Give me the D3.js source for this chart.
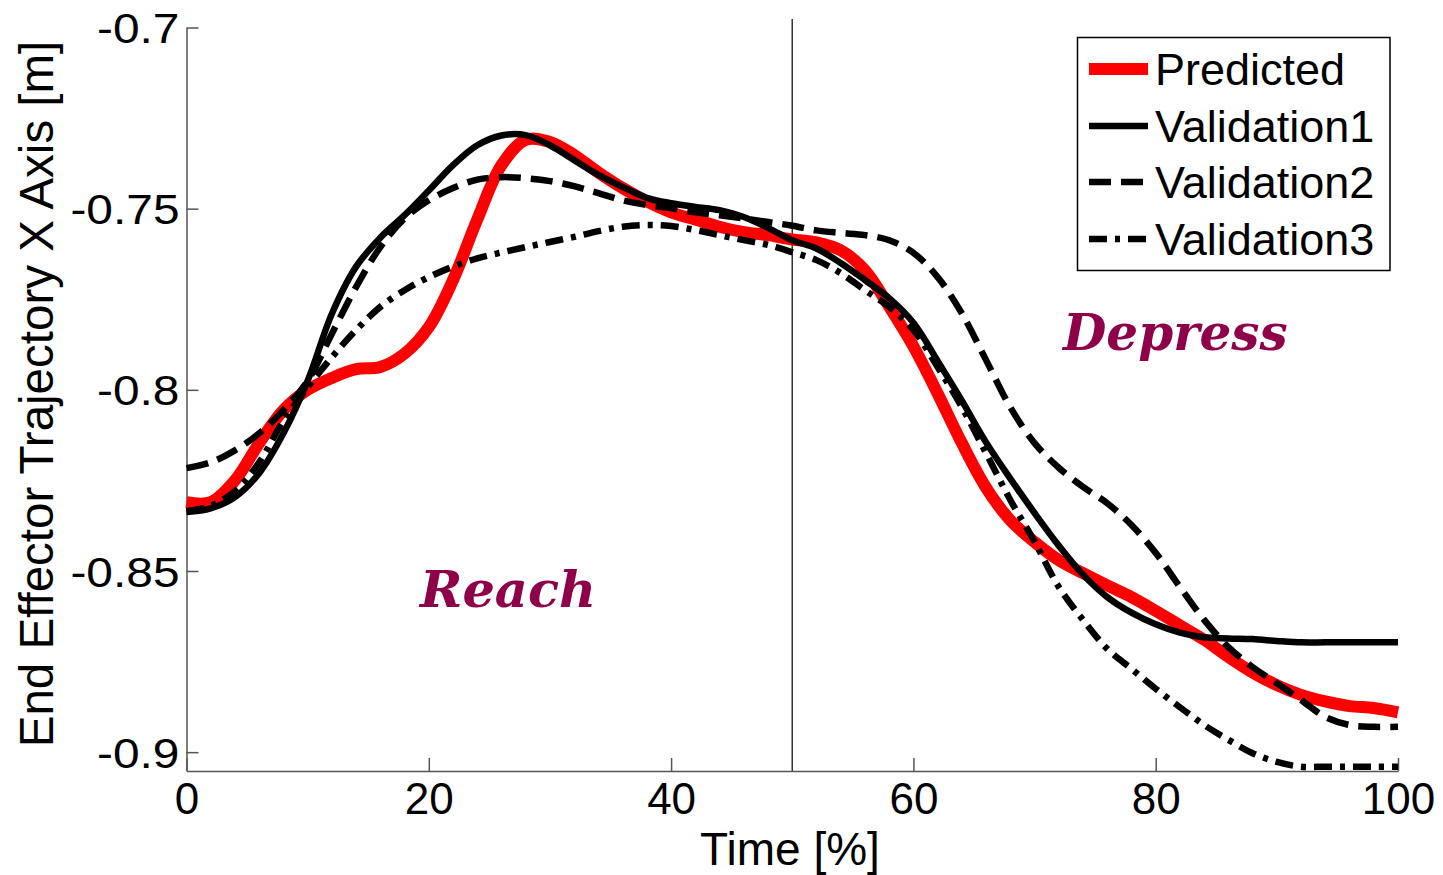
<!DOCTYPE html>
<html>
<head>
<meta charset="utf-8">
<script src="https://cdn.jsdelivr.net/npm/d3@7"></script>
<style>
  body { margin: 0; background: #fff; }
  text { font-family: "Liberation Sans", Arial, sans-serif; }
</style>
</head>
<body>
<svg width="1443" height="875"></svg>
<script>
// time samples, percent of the task
var time = [0, 2, 4, 6, 8, 10, 12, 14, 16, 18, 20, 22, 24, 26, 28, 30, 32, 34, 36, 38, 40,
  42, 44, 46, 48, 50, 52, 54, 56, 58, 60, 62, 64, 66, 68, 70, 72, 74, 76, 78, 80,
  82, 84, 86, 88, 90, 92, 94, 96, 98, 100];

var predicted = [-0.831, -0.831, -0.825, -0.8147, -0.8056, -0.800, -0.7967, -0.7943, -0.7937, -0.790,
  -0.7827, -0.7697, -0.753, -0.738, -0.731, -0.7316, -0.7352, -0.740, -0.7443, -0.748, -0.751,
  -0.753, -0.755, -0.7565, -0.7573, -0.7585, -0.7593, -0.7615, -0.767, -0.777, -0.788,
  -0.801, -0.8147, -0.827, -0.836, -0.842, -0.847, -0.8506, -0.854, -0.8572, -0.861,
  -0.865, -0.869, -0.8737, -0.878, -0.8815, -0.8842, -0.886, -0.8873, -0.8878, -0.889];

var validation1 = [-0.8337, -0.8327, -0.8296, -0.823, -0.812, -0.7975, -0.779, -0.766, -0.758, -0.7518,
  -0.745, -0.738, -0.7325, -0.7298, -0.7297, -0.7325, -0.7366, -0.7407, -0.744, -0.747, -0.7485,
  -0.7495, -0.7504, -0.7523, -0.7553, -0.7587, -0.761, -0.765, -0.7697, -0.7747, -0.7815,
  -0.792, -0.803, -0.8145, -0.8245, -0.834, -0.843, -0.851, -0.8572, -0.8615, -0.8647,
  -0.867, -0.8683, -0.8686, -0.8688, -0.8693, -0.8697, -0.8697, -0.8697, -0.8697, -0.8697];

var validation2 = [-0.8216, -0.820, -0.8167, -0.812, -0.8056, -0.7975, -0.7845, -0.7716, -0.7606, -0.7527,
  -0.7477, -0.7443, -0.742, -0.7413, -0.7416, -0.7424, -0.7438, -0.7457, -0.7477, -0.749, -0.7499,
  -0.751, -0.7518, -0.7527, -0.7537, -0.7547, -0.756, -0.7567, -0.7573, -0.7587, -0.7622,
  -0.7689, -0.7789, -0.7918, -0.8048, -0.8147, -0.8215, -0.8268, -0.8313, -0.8373, -0.845,
  -0.8544, -0.8635, -0.871, -0.8765, -0.881, -0.8856, -0.8903, -0.8925, -0.893, -0.893];

var validation3 = [-0.8335, -0.832, -0.828, -0.820, -0.8085, -0.7993, -0.791, -0.7835, -0.7771, -0.7725,
  -0.7689, -0.766, -0.7637, -0.7621, -0.7606, -0.7592, -0.7578, -0.7562, -0.755, -0.7545, -0.7548,
  -0.7559, -0.7573, -0.7587, -0.760, -0.762, -0.7642, -0.7678, -0.7725, -0.7771, -0.7835,
  -0.7937, -0.8048, -0.8175, -0.8304, -0.8419, -0.8544, -0.8635, -0.8715, -0.877, -0.8825,
  -0.8876, -0.8925, -0.8966, -0.9003, -0.9027, -0.904, -0.904, -0.904, -0.904, -0.904];

var seriesNames = ["Predicted", "Validation1", "Validation2", "Validation3"];
var xTicks = [0, 20, 40, 60, 80, 100];
var yTicks = [-0.9, -0.85, -0.8, -0.75, -0.7];
var yTickLabels = ["-0.9", "-0.85", "-0.8", "-0.75", "-0.7"];
var phaseSplit = 50;

var styles = [
  { color: "#ff0000", width: 12, dash: null },
  { color: "#000", width: 6.5, dash: null },
  { color: "#000", width: 6.5, dash: "22,10" },
  { color: "#000", width: 6.5, dash: "18,8,5,8" }
];
var allSeries = [predicted, validation1, validation2, validation3];

var svg = d3.select("svg");

var x = d3.scaleLinear().domain([0, 100]).range([186.5, 1398]);
var y = d3.scaleLinear().domain([-0.9052, -0.7]).range([771, 27.5]);

// axes, ticks pointing inward
var xAxis = svg.append("g")
  .attr("transform", "translate(0,771)")
  .call(d3.axisBottom(x).tickValues(xTicks).tickSizeInner(-13).tickSizeOuter(0).tickPadding(10));
var yAxis = svg.append("g")
  .attr("transform", "translate(186.5,0)")
  .call(d3.axisLeft(y).tickValues(yTicks).tickSizeInner(-12).tickSizeOuter(0).tickPadding(8)
    .tickFormat(function (d, i) { return yTickLabels[i]; }));

[xAxis, yAxis].forEach(function (a) {
  a.select(".domain").attr("stroke", "#555").attr("stroke-width", 1.5);
  a.selectAll(".tick line").attr("stroke", "#555").attr("stroke-width", 1.5);
  a.selectAll(".tick text").attr("fill", "#000").style("font-family", "Liberation Sans, Arial, sans-serif");
});
xAxis.selectAll(".tick text").style("font-size", "44px").attr("dy", "0.76em");
// the source's tick labels look slightly stretched sideways
yAxis.selectAll(".tick text")
  .style("font-size", "42px").attr("dy", "0.36em")
  .attr("x", null)
  .attr("transform", "translate(-7,0) scale(1.14,1)");

// phase divider
svg.append("line")
  .attr("x1", x(phaseSplit)).attr("x2", x(phaseSplit))
  .attr("y1", 19).attr("y2", 771)
  .attr("stroke", "#333").attr("stroke-width", 1.5);

var line = d3.line()
  .x(function (d, i) { return x(time[i]); })
  .y(function (d) { return y(d); })
  .curve(d3.curveCatmullRom);

allSeries.forEach(function (s, k) {
  svg.append("path")
    .datum(s)
    .attr("d", line)
    .attr("fill", "none")
    .attr("stroke", styles[k].color)
    .attr("stroke-width", styles[k].width)
    .attr("stroke-dasharray", styles[k].dash)
    .attr("stroke-linejoin", "round");
});

// phase labels
svg.append("text")
  .attr("x", 420).attr("y", 607)
  .attr("fill", "#8e0049")
  .style("font-family", "DejaVu Serif, serif")
  .style("font-weight", "bold").style("font-style", "italic")
  .style("font-size", "51px")
  .text("Reach");
svg.append("text")
  .attr("x", 1063).attr("y", 350)
  .attr("fill", "#8e0049")
  .style("font-family", "DejaVu Serif, serif")
  .style("font-weight", "bold").style("font-style", "italic")
  .style("font-size", "50px")
  .text("Depress");

// axis titles
svg.append("text")
  .attr("x", 790).attr("y", 865)
  .attr("text-anchor", "middle")
  .style("font-size", "46px")
  .text("Time [%]");
svg.append("text")
  .attr("transform", "translate(53,394) rotate(-90)")
  .attr("text-anchor", "middle")
  .style("font-size", "47.5px")
  .text("End Effector Trajectory X Axis [m]");

// legend
var legend = svg.append("g");
legend.append("rect")
  .attr("x", 1077.5).attr("y", 37.5).attr("width", 312.5).attr("height", 233)
  .attr("fill", "#fff").attr("stroke", "#000").attr("stroke-width", 1.5);
var rowY = [69, 126, 182, 239];
seriesNames.forEach(function (name, k) {
  legend.append("line")
    .attr("x1", 1089).attr("x2", 1148)
    .attr("y1", rowY[k]).attr("y2", rowY[k])
    .attr("stroke", styles[k].color)
    .attr("stroke-width", styles[k].width)
    .attr("stroke-dasharray", styles[k].dash);
  legend.append("text")
    .attr("x", 1155).attr("y", rowY[k])
    .attr("dy", "0.36em")
    .style("font-size", "45px")
    .text(name);
});
</script>
</body>
</html>
